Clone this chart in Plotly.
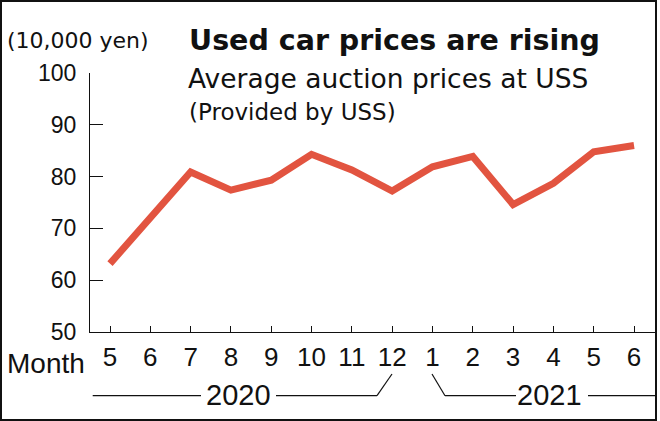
import plotly.graph_objects as go

# ---- data ----
months = ["5", "6", "7", "8", "9", "10", "11", "12", "1", "2", "3", "4", "5", "6"]
prices = [63.2, 72.0, 80.9, 77.4, 79.3, 84.3, 81.3, 77.2, 81.9, 83.9, 74.6, 78.7, 84.8, 86.0]
y_ticks = [50, 60, 70, 80, 90, 100]
years = ["2020", "2021"]

W, H = 660, 421
L, R, T, B = 90, 5, 73, 89
PW, PH = W - L - R, H - T - B

def px(x):
    return (x - L) / PW

def py(y):
    return (H - B - y) / PH

idx = list(range(len(months)))
step = 40.31
xr = [(L - 110) / step, (W - R - 110) / step]

fig = go.Figure()
fig.add_trace(go.Scatter(
    x=idx, y=prices, mode="lines",
    line=dict(color="#e25440", width=7),
    hoverinfo="skip", showlegend=False,
))

SANS = "Liberation Sans, Arial, sans-serif"
WIDE = "DejaVu Sans, sans-serif"

fig.update_layout(
    width=W, height=H,
    margin=dict(l=L, r=R, t=T, b=B, pad=0),
    paper_bgcolor="white", plot_bgcolor="white",
    showlegend=False,
    xaxis=dict(
        range=xr, tickmode="array", tickvals=idx, ticktext=months,
        showline=True, linecolor="#111", linewidth=1.3,
        ticks="inside", ticklen=6, tickwidth=1.3, tickcolor="#111",
        showgrid=False, zeroline=False,
        tickfont=dict(family=SANS, size=26, color="#111"),
        ticklabelstandoff=2,
    ),
    yaxis=dict(
        range=[50, 100], tickmode="array", tickvals=y_ticks,
        ticktext=[str(v) for v in y_ticks],
        showline=True, linecolor="#111", linewidth=1.3,
        ticks="inside", ticklen=13, tickwidth=1.3, tickcolor="#111",
        showgrid=False, zeroline=False,
        tickfont=dict(family=SANS, size=23, color="#111"),
        ticklabelstandoff=8,
    ),
)

def note(text, x, y, size, family=SANS, bold=False, xanchor="left"):
    t = f"<b>{text}</b>" if bold else text
    fig.add_annotation(
        text=t, x=px(x), y=py(y), xref="paper", yref="paper",
        xanchor=xanchor, yanchor="middle", showarrow=False,
        font=dict(family=family, size=size, color="#111"),
    )

note("(10,000 yen)", 5, 40, 22, family=WIDE)
note("Used car prices are rising", 187, 40, 28.5, family=WIDE, bold=True)
note("Average auction prices at USS", 186, 79, 26.5, family=WIDE)
note("(Provided by USS)", 187, 112, 23, family=WIDE)
note("Month", 87, 363, 28, xanchor="right")

# year labels
fig.add_annotation(text=years[0], x=px(238.5), y=py(395), xref="paper", yref="paper",
                   xanchor="center", yanchor="middle", showarrow=False,
                   font=dict(family=SANS, size=29, color="#111"))
fig.add_annotation(text=years[1], x=px(549), y=py(395), xref="paper", yref="paper",
                   xanchor="center", yanchor="middle", showarrow=False,
                   font=dict(family=SANS, size=29, color="#111"))

# bracket lines
line = dict(color="#111", width=1.2)
yl, yh = 395.7, 374
def seg(x0, y0, x1, y1):
    fig.add_shape(type="line", xref="paper", yref="paper",
                  x0=px(x0), y0=py(y0), x1=px(x1), y1=py(y1), line=line)

seg(92.7, yl, 201, yl)
seg(276, yl, 377, yl)
seg(377, yl, 392, yh)
seg(432, yh, 445, yl)
seg(445, yl, 516, yl)
seg(588, yl, 655, yl)

# outer frame
fig.add_shape(type="rect", xref="paper", yref="paper",
              x0=px(1), y0=py(1), x1=px(656), y1=py(420),
              line=dict(color="#111", width=2), fillcolor="rgba(0,0,0,0)")

fig.write_html(
    "out.html",
    config={"displayModeBar": False},
    post_script="document.body.style.margin='0';document.body.style.padding='0';",
)
